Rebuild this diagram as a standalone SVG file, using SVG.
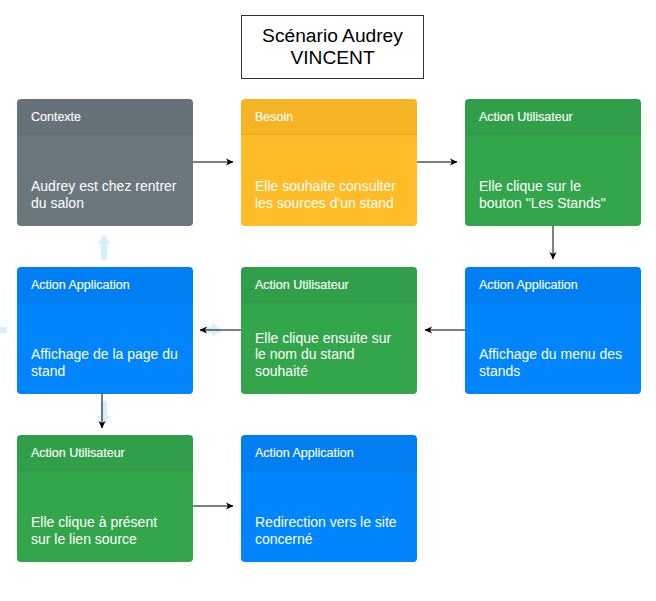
<svg xmlns="http://www.w3.org/2000/svg" width="656" height="601" viewBox="0 0 656 601">
<defs>
<marker id="arr" viewBox="0 0 8 8" refX="7" refY="4" markerWidth="8" markerHeight="8" markerUnits="userSpaceOnUse" orient="auto">
<path d="M0,0.5 L7.5,4 L0,7.5 L2,4 z" fill="#000"/>
</marker>
<style>
text{font-family:"Liberation Sans",Arial,Helvetica,sans-serif;}
.hd{font-size:12.5px;fill:#fff;stroke:#fff;stroke-width:0.12;}
.bd{font-size:14px;fill:#fff;}
.ttl{font-size:19.2px;fill:#000;text-anchor:middle;}
.hdr{fill:#000;fill-opacity:0.04;}
.sep{stroke:#000;stroke-opacity:0.1;stroke-width:1;}
.grey{fill:#6c767d;}
.yellow{fill:#ffbc26;}
.green{fill:#33a64c;}
.blue{fill:#0085fc;}
.conn{fill:none;stroke:#000;stroke-width:1;marker-end:url(#arr);}
.hover{fill:#29b6f2;fill-opacity:0.2;}
</style>
</defs>
<rect width="656" height="601" fill="#fff"/>

<g id="title">
<rect x="241.5" y="15.5" width="182" height="63" fill="#fff" stroke="#333" stroke-width="1"/>
<text class="ttl" x="332.5" y="42">Scénario Audrey</text>
<text class="ttl" x="332.5" y="64">VINCENT</text>
</g>

<g id="contexte">
<rect class="grey" x="17" y="99" width="176" height="127" rx="4"/>
<path class="hdr" d="M21,99 H189 A4,4 0 0 1 193,103 V134 H17 V103 A4,4 0 0 1 21,99 Z"/>
<line class="sep" x1="17" y1="134.5" x2="193" y2="134.5"/>
<text class="hd" x="31" y="121">Contexte</text>
<text class="bd" x="31" y="191">Audrey est chez rentrer</text>
<text class="bd" x="31" y="207.5">du salon</text>
</g>

<g id="besoin">
<rect class="yellow" x="241" y="99" width="176" height="127" rx="4"/>
<path class="hdr" d="M245,99 H413 A4,4 0 0 1 417,103 V134 H241 V103 A4,4 0 0 1 245,99 Z"/>
<line class="sep" x1="241" y1="134.5" x2="417" y2="134.5"/>
<text class="hd" x="255" y="121">Besoin</text>
<text class="bd" x="255" y="191">Elle souhaite consulter</text>
<text class="bd" x="255" y="207.5">les sources d'un stand</text>
</g>

<g id="action-utilisateur-1">
<rect class="green" x="465" y="99" width="176" height="127" rx="4"/>
<path class="hdr" d="M469,99 H637 A4,4 0 0 1 641,103 V134 H465 V103 A4,4 0 0 1 469,99 Z"/>
<line class="sep" x1="465" y1="134.5" x2="641" y2="134.5"/>
<text class="hd" x="479" y="121">Action Utilisateur</text>
<text class="bd" x="479" y="191">Elle clique sur le</text>
<text class="bd" x="479" y="207.5">bouton "Les Stands"</text>
</g>

<g id="action-application-1">
<rect class="blue" x="465" y="267" width="176" height="127" rx="4"/>
<path class="hdr" d="M469,267 H637 A4,4 0 0 1 641,271 V302 H465 V271 A4,4 0 0 1 469,267 Z"/>
<line class="sep" x1="465" y1="302.5" x2="641" y2="302.5"/>
<text class="hd" x="479" y="289">Action Application</text>
<text class="bd" x="479" y="359">Affichage du menu des</text>
<text class="bd" x="479" y="375.5">stands</text>
</g>

<g id="action-utilisateur-2">
<rect class="green" x="241" y="267" width="176" height="127" rx="4"/>
<path class="hdr" d="M245,267 H413 A4,4 0 0 1 417,271 V302 H241 V271 A4,4 0 0 1 245,267 Z"/>
<line class="sep" x1="241" y1="302.5" x2="417" y2="302.5"/>
<text class="hd" x="255" y="289">Action Utilisateur</text>
<text class="bd" x="255" y="342.5">Elle clique ensuite sur</text>
<text class="bd" x="255" y="359">le nom du stand</text>
<text class="bd" x="255" y="375.5">souhaité</text>
</g>

<g id="action-application-2">
<rect class="blue" x="17" y="267" width="176" height="127" rx="4"/>
<path class="hdr" d="M21,267 H189 A4,4 0 0 1 193,271 V302 H17 V271 A4,4 0 0 1 21,267 Z"/>
<line class="sep" x1="17" y1="302.5" x2="193" y2="302.5"/>
<text class="hd" x="31" y="289">Action Application</text>
<text class="bd" x="31" y="359">Affichage de la page du</text>
<text class="bd" x="31" y="375.5">stand</text>
</g>

<g id="action-utilisateur-3">
<rect class="green" x="17" y="435" width="176" height="127" rx="4"/>
<path class="hdr" d="M21,435 H189 A4,4 0 0 1 193,439 V470 H17 V439 A4,4 0 0 1 21,435 Z"/>
<line class="sep" x1="17" y1="470.5" x2="193" y2="470.5"/>
<text class="hd" x="31" y="457">Action Utilisateur</text>
<text class="bd" x="31" y="527">Elle clique à présent</text>
<text class="bd" x="31" y="543.5">sur le lien source</text>
</g>

<g id="action-application-3">
<rect class="blue" x="241" y="435" width="176" height="127" rx="4"/>
<path class="hdr" d="M245,435 H413 A4,4 0 0 1 417,439 V470 H241 V439 A4,4 0 0 1 245,435 Z"/>
<line class="sep" x1="241" y1="470.5" x2="417" y2="470.5"/>
<text class="hd" x="255" y="457">Action Application</text>
<text class="bd" x="255" y="527">Redirection vers le site</text>
<text class="bd" x="255" y="543.5">concerné</text>
</g>

<g id="hover-arrows">
<path class="hover" d="M104,235 L111,244 L107,244 L107,260 L101,260 L101,244 L97,244 Z"/>
<path class="hover" d="M104,425 L111,416 L107,416 L107,401 L101,401 L101,416 L97,416 Z"/>
<path class="hover" d="M-16,330 L-7,323 L-7,327 L7,327 L7,333 L-7,333 L-7,337 Z"/>
<path class="hover" d="M222,330 L212,323 L212,327 L200,327 L200,333 L212,333 L212,337 Z"/>
</g>

<g id="connectors">
<path class="conn" d="M193,162 H233"/>
<path class="conn" d="M417,162 H457"/>
<path class="conn" d="M553,226 V259"/>
<path class="conn" d="M465,330 H425"/>
<path class="conn" d="M241,330 H200"/>
<path class="conn" d="M102,394 V428"/>
<path class="conn" d="M193,506 H233"/>
</g>
</svg>
